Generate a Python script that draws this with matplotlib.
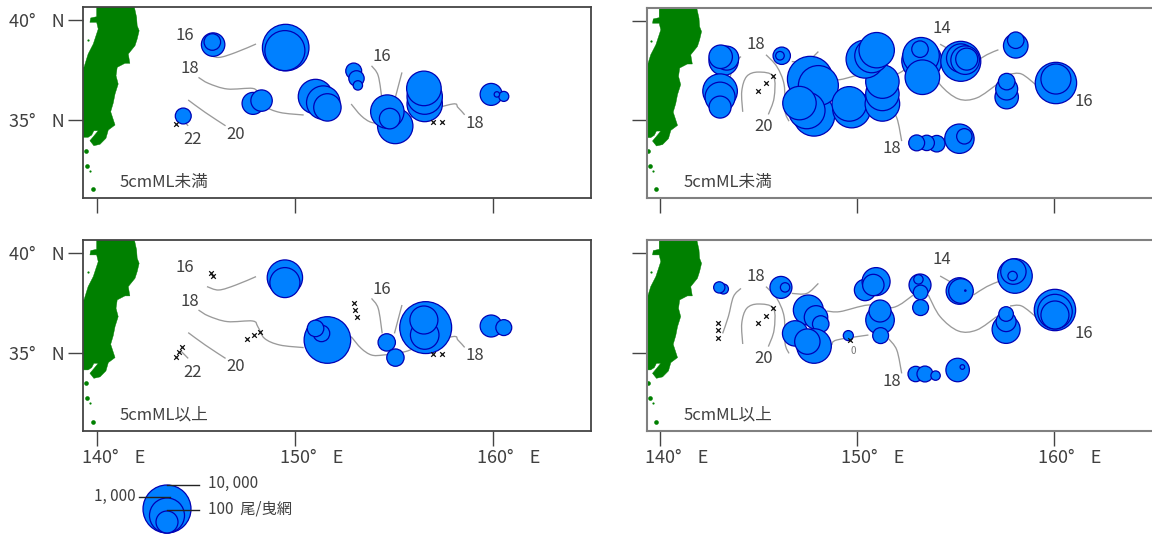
import numpy as np
import matplotlib
matplotlib.use("Agg")
import matplotlib.pyplot as plt
from matplotlib.path import Path
from matplotlib.patches import PathPatch
from matplotlib.transforms import ScaledTranslation

plt.rcParams['font.family'] = ['Noto Sans CJK JP', 'DejaVu Sans']

# ---------- bubbles: longitude, latitude, catch (per haul) ----------
a_lon = [145.85,145.81,149.52,149.48,144.34,147.87,148.30,151.03,151.42,151.63,152.96,153.10,153.17,155.06,154.66,154.78,156.55,156.55,156.51,159.91,160.55,160.20]
a_lat = [38.77,38.90,38.62,38.47,35.20,35.83,35.97,36.17,35.87,35.63,37.45,37.08,36.73,34.70,35.42,35.07,35.80,36.17,36.58,36.28,36.18,36.28]
a_catch = [130,38,7800,2430,34,100,90,930,760,260,34,31,10.7,1070,760,78,1070,1070,930,100,12,5.3]
a_x_lon = [143.98,156.99,157.41]
a_x_lat = [34.78,34.90,34.90]

b_lon = [143.23,143.39,143.08,143.05,143.05,143.05,146.18,146.09,147.82,147.62,148.04,147.45,147.08,149.73,149.61,151.29,151.29,151.29,150.41,150.75,151.00,153.29,153.25,153.20,153.32,155.27,155.27,155.49,155.57,158.06,158.06,157.60,157.60,157.60,160.10,160.10,154.05,153.54,153.03,155.20,155.45]
b_lat = [38.00,38.13,38.20,36.47,36.17,35.67,38.25,38.25,35.25,37.08,36.75,35.50,35.87,35.58,35.83,35.83,36.33,36.95,38.08,38.25,38.53,38.00,38.25,38.58,37.17,37.97,38.13,38.03,38.08,38.75,39.03,36.17,36.58,36.95,36.88,37.08,33.83,33.87,33.87,34.08,34.20]
b_catch = [370,142,130,930,413,100,44,9.3,3100,6300,2430,1320,760,1700,930,930,760,760,1700,840,1070,2430,1320,38,930,2430,320,320,100,158,38,130,100,38,3100,413,38,31,34,370,31]
b_x_lon = [144.99,145.38,145.76]
b_x_lat = [36.50,36.88,37.25]

c_lon = [149.48,149.48,151.63,151.33,151.03,154.63,155.07,156.60,156.55,156.51,159.91,160.55]
c_lat = [38.75,38.50,35.63,35.96,36.21,35.51,34.75,36.25,35.88,36.63,36.33,36.25]
c_catch = [1070,413,7800,38,38,44,44,20000,320,290,100,34]
c_x_lon = [145.76,145.85,147.54,147.92,148.23,152.96,153.05,153.14,143.98,144.11,144.30,156.99,157.41]
c_x_lat = [39.00,38.83,35.68,35.88,36.05,37.46,37.13,36.80,34.76,35.05,35.30,34.91,34.91]

d_lon = [143.22,143.01,146.14,146.35,147.53,147.92,148.16,147.82,146.86,147.48,149.56,151.17,151.17,151.20,150.41,150.97,150.83,153.20,153.12,153.23,153.23,155.20,155.28,155.50,158.02,157.94,157.90,157.57,157.57,157.57,160.05,160.05,160.05,152.98,153.45,153.99,155.11,155.35]
d_lat = [38.18,38.26,38.26,38.26,37.13,36.76,36.43,35.33,35.96,35.55,35.85,36.63,37.08,35.85,38.13,38.55,38.38,38.38,38.66,38.01,37.25,38.08,38.08,38.10,38.83,39.05,38.83,36.16,36.55,36.93,37.13,37.05,36.88,33.93,33.93,33.85,34.13,34.28]
d_catch = [12,15,100,10.7,413,130,38,930,182,182,12,320,100,34,90,290,90,100,10.7,27,34,225,158,2.6,930,182,10.7,290,70,27,3100,930,290,31,34,10.7,130,4.6]
d_x_lon = [142.96,142.96,142.96,144.99,145.38,145.76,149.65]
d_x_lat = [36.50,36.13,35.71,36.46,36.85,37.25,35.63]

# ---------- sea-surface temperature contours ----------
iso_ac = [
    ([145.54,146.14,147.00,148.02],[38.30,38.13,38.38,38.80]),
    ([145.11,145.62,146.57,147.85,148.11,148.45,149.22,150.43],[37.13,36.83,36.55,36.58,36.30,35.71,35.38,35.25]),
    ([152.83,153.34,153.86,154.46,155.57,156.43,157.97,158.23,158.57],[35.80,35.21,34.88,34.88,35.05,35.38,35.80,35.63,35.26]),
    ([144.59,145.45,146.48],[36.00,35.38,34.71]),
    ([153.86,154.20,154.40],[37.71,37.21,35.96]),
    ([155.40,155.02],[37.38,35.96]),
    ([144.25,144.59],[35.05,34.71]),
]
iso_bd = [
    ([144.11,143.73,143.47,143.18],[38.21,37.80,36.80,35.96]),
    ([144.20,144.15,144.40,144.99,145.76,145.79,145.50],[35.43,36.46,37.21,37.43,37.21,36.13,35.30]),
    ([145.38,145.93,146.30,146.35,146.55],[38.30,37.71,36.80,35.46,34.96]),
    ([146.69,147.45,148.04],[37.96,37.96,38.46]),
    ([148.46,149.14,150.58,151.85,152.86],[37.08,37.05,37.38,37.26,37.88]),
    ([153.62,154.22,155.15,156.08,157.09],[37.88,36.80,36.08,36.13,36.80]),
    ([155.91,156.59,157.18],[37.88,38.30,38.55]),
    ([154.22,154.72],[38.83,38.55]),
    ([157.77,158.36,159.12],[37.33,37.33,36.76]),
    ([148.72,148.97,150.58],[35.38,35.63,35.88]),
    ([151.59,152.02,152.27],[35.71,35.13,33.96]),
]
iso_ac_labels = [("16",144.42,39.25),("18",144.65,37.58),("20",147.00,34.28),("22",144.80,34.00),("16",154.37,38.17),("18",159.09,34.83)]
iso_bd_labels = [("18",144.86,38.80),("20",145.25,34.70),("14",154.30,39.63),("16",161.53,35.97),("18",151.76,33.58)]

# ---------- coast ----------
land_lon = [139.96,141.81,141.98,142.01,142.11,142.01,141.90,141.56,141.64,141.39,141.00,140.94,141.05,140.89,140.80,140.67,140.89,140.55,140.43,140.13,139.82,139.62,139.82,140.04,139.82,139.71,139.53,139.00,139.00,139.32,139.53,139.79,140.04,139.96,139.62,139.66,139.96]
land_lat = [40.90,40.90,40.135,39.715,39.465,39.05,38.715,38.30,37.835,37.835,37.635,37.215,36.80,36.30,35.85,35.415,34.75,34.50,34.085,33.785,33.715,33.965,34.20,34.465,34.465,34.25,34.135,34.135,37.70,37.635,38.30,38.80,39.55,39.885,39.885,40.10,40.165]
island_lon = [139.40,139.48,139.79]
island_lat = [33.465,32.715,31.55]
islet_lon = [139.53,139.62]
islet_lat = [39.015,32.465]

panel_titles = ["5cmML未満", "5cmML未満", "5cmML以上", "5cmML以上"]
x_ticks = [140, 150, 160]
y_ticks = [40, 35]
x_tick_labels = ["140°    E", "150°    E", "160°    E"]
y_tick_labels = ["40°    N", "35°    N"]
legend_catch = [10000, 1000, 100]
legend_texts = ["10, 000", "1, 000", "100  尾/曳網"]

W, H = 1152, 535
TXT = "#404040"
FILL, EDGE = "#0080FF", "#0000B4"


def marker_size(catch):
    r = 6.5 * np.log10(np.asarray(catch, float)) - 2.0
    return (2 * r * 72 / 100) ** 2


def smooth_path(xs, ys):
    """Smooth drawing of a contour: Bezier segments through the given vertices."""
    p = np.column_stack([xs, ys])
    q = np.vstack([p[0], p, p[-1]])
    verts, codes = [p[0]], [Path.MOVETO]
    for i in range(1, len(q) - 2):
        verts += [q[i] + (q[i + 1] - q[i - 1]) / 6, q[i + 1] - (q[i + 2] - q[i]) / 6, q[i + 1]]
        codes += [Path.CURVE4] * 3
    return Path(verts, codes)


fig = plt.figure(figsize=(W / 100, H / 100), dpi=100)


def make_ax(l, t, r, b):
    return fig.add_axes([l / W, 1 - b / H, (r - l) / W, (b - t) / H])


def panel(box, xlim, ylim, lon, lat, catch, xl, xa, iso, labels, title, title_lon,
          xlab, ylab, spine):
    ax = make_ax(*box)
    ax.set_xlim(*xlim)
    ax.set_ylim(*ylim)
    ax.fill(land_lon, land_lat, color="#008000", lw=0.3, zorder=1)
    ax.scatter(island_lon, island_lat, s=11, marker="o", color="#008000", lw=0, zorder=1)
    ax.scatter(islet_lon, islet_lat, s=2.5, marker="o", color="#008000", lw=0, zorder=1)
    for xs, ys in iso:
        ax.add_patch(PathPatch(smooth_path(xs, ys), fill=False, edgecolor="#9a9a9a", lw=0.95, zorder=2))
    ax.scatter(lon, lat, s=marker_size(catch), facecolor=FILL, edgecolor=EDGE, lw=0.9, zorder=3)
    ax.scatter(xl, xa, marker="x", s=11, color="#111111", lw=0.9, zorder=4)
    for t, x, y in labels:
        ax.text(x, y, t, fontsize=12, color=TXT, ha="center", va="center", zorder=5)
    ax.text(title_lon, 31.87, title, fontsize=12, color=TXT, ha="left", va="center", zorder=5)
    ax.set_xticks(x_ticks)
    ax.set_yticks(y_ticks)
    ax.tick_params(axis="both", length=11, width=1.0, color="#444444", labelcolor=TXT, labelsize=13, pad=2)
    ax.set_xticklabels(xlab)
    ax.set_yticklabels(ylab)
    off = ScaledTranslation(-15.5 / 100, 0, fig.dpi_scale_trans)
    for tl in ax.get_xticklabels():
        tl.set_ha("left")
        tl.set_transform(tl.get_transform() + off)
    for s in ax.spines.values():
        s.set_color(spine[0])
        s.set_linewidth(spine[1])
    return ax


nox, noy = ["", "", ""], ["", ""]
L = (139.27, 164.96)
R = (139.34, 165.18)
Y1 = (31.10, 40.65)
Y2 = (31.08, 40.63)
sl = ("#444444", 1.3)
sr = ("#808080", 1.5)

ax_a = panel((83, 7, 591, 198), L, Y1, a_lon, a_lat, a_catch, a_x_lon, a_x_lat, iso_ac, iso_ac_labels, panel_titles[0], 141.13, nox, y_tick_labels, sl)
ax_b = panel((647, 8, 1156, 198), R, Y1, b_lon, b_lat, b_catch, b_x_lon, b_x_lat, iso_bd, iso_bd_labels, panel_titles[1], 141.19, nox, noy, sr)
ax_c = panel((83, 240, 591, 431), L, Y2, c_lon, c_lat, c_catch, c_x_lon, c_x_lat, iso_ac, iso_ac_labels, panel_titles[2], 141.13, x_tick_labels, y_tick_labels, sl)
ax_d = panel((647, 240, 1156, 431), R, Y2, d_lon, d_lat, d_catch, d_x_lon, d_x_lat, iso_bd, iso_bd_labels, panel_titles[3], 141.19, x_tick_labels, noy, sr)
ax_d.text(149.82, 35.10, "0", fontsize=7, color="#777777", ha="center", va="center", zorder=5)

# ---------- size legend, laid out in figure pixels ----------
lg = fig.add_axes([0, 0, 1, 1], facecolor="none")
lg.set_xlim(0, W)
lg.set_ylim(H, 0)
lg.axis("off")
bottom_px = 533
radii = 6.5 * np.log10(np.array(legend_catch, float)) - 2.0
lg.scatter([167] * 3, bottom_px - radii, s=marker_size(legend_catch), facecolor=FILL, edgecolor=EDGE, lw=0.9, zorder=3)
lg.plot([167, 199], [485, 485], color="#222222", lw=1.0, zorder=4)
lg.plot([139, 170], [497, 497], color="#222222", lw=1.0, zorder=4)
lg.plot([167, 199], [510, 510], color="#222222", lw=1.0, zorder=4)
lg.text(208, 483, legend_texts[0], fontsize=11, color=TXT, ha="left", va="center")
lg.text(136, 496, legend_texts[1], fontsize=11, color=TXT, ha="right", va="center")
lg.text(208, 509, legend_texts[2], fontsize=11, color=TXT, ha="left", va="center")

fig.savefig("out.png", dpi=100, facecolor="white")
